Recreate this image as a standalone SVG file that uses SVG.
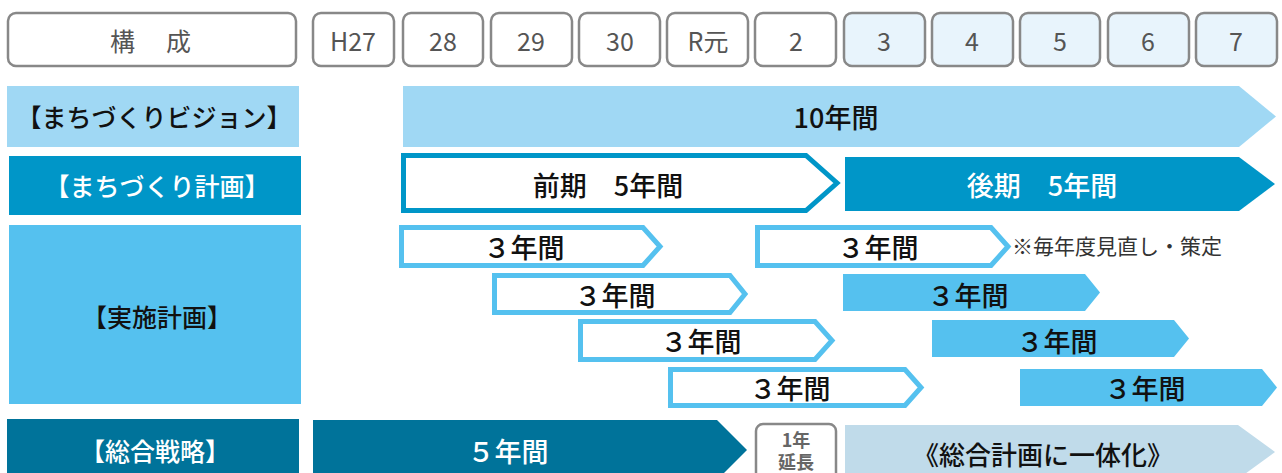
<svg xmlns="http://www.w3.org/2000/svg" width="1282" height="473" viewBox="0 0 1282 473">
<style>
text{font-family:"Noto Sans CJK JP","Noto Sans",sans-serif;text-anchor:middle;dominant-baseline:central}
.hb{fill:#fff;stroke:#888;stroke-width:2.5}
.hb2{fill:#e8f4fc;stroke:#888;stroke-width:2.5}
.ht{font-size:25px;fill:#555}
.lab{font-size:25px;font-weight:500}
.big{font-size:27px;font-weight:500}
.out{fill:#fff;stroke:#55c1ef;stroke-width:5}
.fill3{fill:#55c1ef}
.ext{font-size:18px;font-weight:700;fill:#666}
</style>
<g id="header">
<rect class="hb" x="8" y="13" width="288" height="53" rx="8"/>
<text class="ht" x="152" y="40" letter-spacing="3">構　成</text>
<rect class="hb" x="313" y="13" width="81" height="53" rx="8"/><text class="ht" x="353" y="40">H27</text>
<rect class="hb" x="403" y="13" width="80" height="53" rx="8"/><text class="ht" x="443" y="40">28</text>
<rect class="hb" x="491" y="13" width="81" height="53" rx="8"/><text class="ht" x="531" y="40">29</text>
<rect class="hb" x="579" y="13" width="81" height="53" rx="8"/><text class="ht" x="620" y="40">30</text>
<rect class="hb" x="667" y="13" width="81" height="53" rx="8"/><text class="ht" x="708" y="40">R元</text>
<rect class="hb" x="755" y="13" width="81" height="53" rx="8"/><text class="ht" x="796" y="40">2</text>
<rect class="hb2" x="844" y="13" width="81" height="53" rx="8"/><text class="ht" x="884" y="40">3</text>
<rect class="hb2" x="932" y="13" width="81" height="53" rx="8"/><text class="ht" x="972" y="40">4</text>
<rect class="hb2" x="1020" y="13" width="80" height="53" rx="8"/><text class="ht" x="1060" y="40">5</text>
<rect class="hb2" x="1108" y="13" width="81" height="53" rx="8"/><text class="ht" x="1148" y="40">6</text>
<rect class="hb2" x="1196" y="13" width="81" height="53" rx="8"/><text class="ht" x="1236" y="40">7</text>
</g>
<g id="vision">
<rect x="7" y="86" width="292" height="61" fill="#a0d8f4"/>
<text class="lab" x="154" y="116" fill="#111">【まちづくりビジョン】</text>
<polygon points="403,86 1239,86 1276,116.5 1239,147 403,147" fill="#a0d8f4"/>
<text class="big" x="836" y="116" fill="#111">10年間</text>
</g>
<g id="machi-plan">
<rect x="9" y="156" width="292" height="59" fill="#0096c8"/>
<text class="lab" x="157" y="185" fill="#fff">【まちづくり計画】</text>
<polygon points="403.5,155.5 806,155.5 837,183 806,210.5 403.5,210.5" fill="#fff" stroke="#0096c8" stroke-width="5"/>
<text class="big" x="608" y="184" fill="#111">前期　5年間</text>
<polygon points="845,157 1239,157 1275,184 1239,211 845,211" fill="#0096c8"/>
<text class="big" x="1042" y="184" fill="#fff">後期　5年間</text>
</g>
<g id="jisshi">
<rect x="9" y="225" width="292" height="179" fill="#55c1ef"/>
<text class="lab" x="157" y="316" fill="#111">【実施計画】</text>
<polygon class="out" points="401.5,227.5 643,227.5 660,246.5 643,265.5 401.5,265.5"/>
<text class="big" x="524" y="246" fill="#111">３年間</text>
<polygon class="out" points="494.5,275.5 730,275.5 745,294 730,312.5 494.5,312.5"/>
<text class="big" x="615" y="294" fill="#111">３年間</text>
<polygon class="out" points="580.5,321.5 815,321.5 832,340.5 815,359.5 580.5,359.5"/>
<text class="big" x="701" y="340" fill="#111">３年間</text>
<polygon class="out" points="670.5,369.5 905,369.5 921,387.5 905,405.5 670.5,405.5"/>
<text class="big" x="790" y="387" fill="#111">３年間</text>
<polygon class="out" points="757.5,227.5 991,227.5 1008,246.5 991,265.5 757.5,265.5"/>
<text class="big" x="878" y="246" fill="#111">３年間</text>
<text x="1012" y="245" font-size="21" fill="#333" style="text-anchor:start">※毎年度見直し・策定</text>
<polygon class="fill3" points="843,274 1085,274 1100,292.5 1085,311 843,311"/>
<text class="big" x="968" y="294" fill="#111">３年間</text>
<polygon class="fill3" points="932,320 1174,320 1189,338.5 1174,357 932,357"/>
<text class="big" x="1057" y="340" fill="#111">３年間</text>
<polygon class="fill3" points="1020,369 1262,369 1277,387.5 1262,406 1020,406"/>
<text class="big" x="1145" y="387" fill="#111">３年間</text>
</g>
<g id="sogo">
<rect x="7" y="419" width="292" height="60" fill="#00739a"/>
<text class="lab" x="155" y="450" fill="#fff">【総合戦略】</text>
<polygon points="313,420 717,420 747,450 717,480 313,480" fill="#00739a"/>
<text class="big" x="508" y="450" fill="#fff">５年間</text>
<rect x="756" y="424" width="80" height="60" rx="7" fill="#fff" stroke="#888" stroke-width="2.5"/>
<text class="ext" x="796" y="439">1年</text>
<text class="ext" x="796" y="461">延長</text>
<polygon points="845,425 1238,425 1275,452 1238,479 845,479" fill="#c0dbea"/>
<text x="1043" y="453" font-size="26" font-weight="500" fill="#111">《総合計画に一体化》</text>
</g>
<g id="connectors"></g>
</svg>
